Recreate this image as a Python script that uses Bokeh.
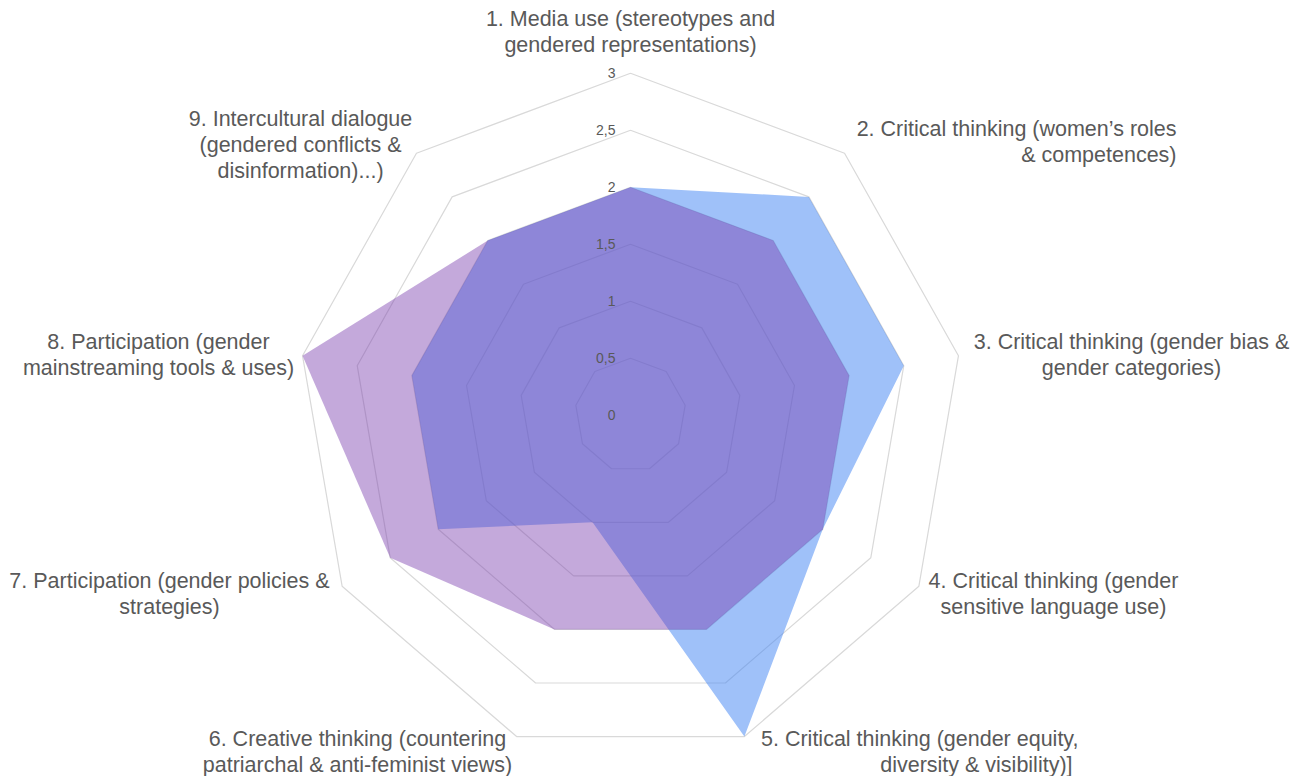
import numpy as np
from bokeh.plotting import figure
from bokeh.models import Range1d
from bokeh.embed import file_html
from bokeh.resources import INLINE
from bokeh.core.properties import value

# ---------------- data ----------------
categories = [
    ["1. Media use (stereotypes and", "gendered representations)"],
    ["2. Critical thinking (women\u2019s roles", "& competences)"],
    ["3. Critical thinking (gender bias &", "gender categories)"],
    ["4. Critical thinking (gender", "sensitive language use)"],
    ["5. Critical thinking (gender equity,", "diversity  & visibility)]"],
    ["6. Creative thinking (countering", "patriarchal & anti-feminist views)"],
    ["7. Participation (gender policies &", "strategies)"],
    ["8. Participation (gender", "mainstreaming tools & uses)"],
    ["9. Intercultural dialogue", "(gendered conflicts &", "disinformation)...)"],
]
series_blue = [2, 2.5, 2.5, 2, 3, 1, 2, 2, 2]
series_purple = [2, 2, 2, 2, 2, 2, 2.5, 3, 2]
tick_values = [0, 0.5, 1, 1.5, 2, 2.5, 3]
tick_labels = ["0", "0,5", "1", "1,5", "2", "2,5", "3"]

# ---------------- layout ----------------
W, H = 1293, 776
CX, CY = 630.0, 414.7      # centre in pixels
SX, SY = 111.0, 114.0      # pixels per unit (x, y)
TXT = "#595959"
FONT = value("Liberation Sans")

# label layout: (align, anchor x px, first line y px)
label_layout = [
    ("center", 630, 18),
    ("right", 1176, 128),
    ("center", 1131, 341),
    ("center", 1053, 580),
    ("right", 1078, 738),
    ("center", 357, 738),
    ("center", 169, 580),
    ("center", 158, 341),
    ("center", 300, 118),
]
LINE_H = 26

def px2x(px):
    return (px - CX) / SX

def px2y(py):
    return (CY - py) / SY

n = len(categories)
angles = np.arange(n) * 2 * np.pi / n

def polygon(vals):
    v = np.asarray(vals, dtype=float)
    return list(v * np.sin(angles)), list(v * np.cos(angles))

p = figure(width=W, height=H,
           x_range=Range1d(-CX / SX, (W - CX) / SX),
           y_range=Range1d(-(H - CY) / SY, CY / SY),
           output_backend="svg", toolbar_location=None, min_border=0)
p.axis.visible = False
p.grid.visible = False
p.outline_line_color = None
p.background_fill_color = "white"
p.border_fill_color = "white"

# grid rings
for t in tick_values[1:]:
    xs, ys = polygon([t] * n)
    p.line(xs + [xs[0]], ys + [ys[0]], line_color="#d9d9d9", line_width=1.2)

# series
xb, yb = polygon(series_blue)
p.patch(xb, yb, fill_color="#3f83f3", fill_alpha=0.5, line_color=None)
xp, yp = polygon(series_purple)
p.patch(xp, yp, fill_color="#793cad", fill_alpha=0.44, line_color=None)

# tick labels
p.text(x=[-15 / SX] * len(tick_values), y=tick_values, text=tick_labels,
       text_align="right", text_baseline="middle", text_font=FONT,
       text_font_size="14px", text_color=TXT)

# category labels
for lines, (align, ax, ay) in zip(categories, label_layout):
    for i, line in enumerate(lines):
        p.text(x=[px2x(ax)], y=[px2y(ay + i * LINE_H)], text=[line],
               text_align=align, text_baseline="middle", text_font=FONT,
               text_font_size="21.5px", text_color=TXT)

open("out.html", "w").write(file_html(p, INLINE))
